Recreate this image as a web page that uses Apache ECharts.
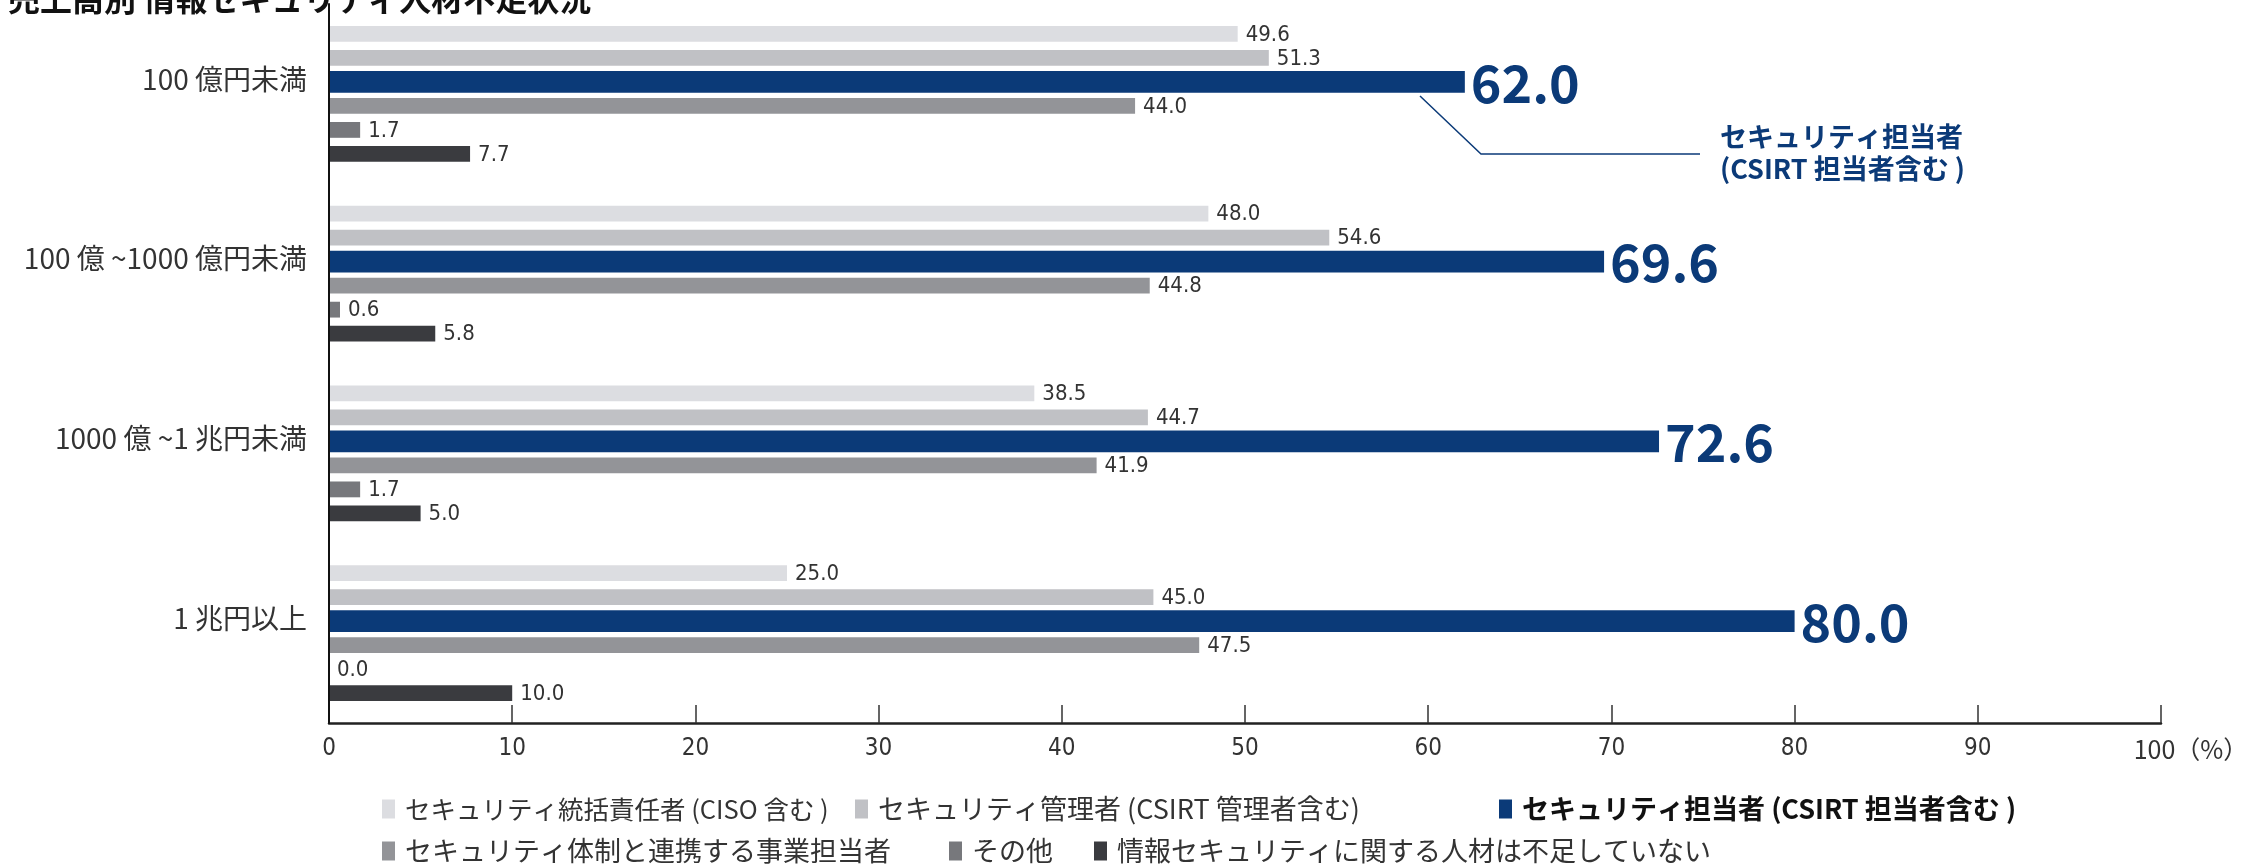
<!DOCTYPE html>
<html><head><meta charset="utf-8">
<script src="https://cdn.jsdelivr.net/npm/echarts@6/dist/echarts.min.js"></script>
<style>html,body{margin:0;padding:0;background:#fff}#c{width:2254px;height:865px}</style>
</head><body><div id="c"></div>
<script>
const titleText = '売上高別 情報セキュリティ人材不足状況';
const categories = ['100 億円未満', '100 億 ~1000 億円未満', '1000 億 ~1 兆円未満', '1 兆円以上'];
const seriesNames = [
  'セキュリティ統括責任者 (CISO 含む )',
  'セキュリティ管理者 (CSIRT 管理者含む)',
  'セキュリティ担当者 (CSIRT 担当者含む )',
  'セキュリティ体制と連携する事業担当者',
  'その他',
  '情報セキュリティに関する人材は不足していない'
];
const cisoValues = [49.6, 48.0, 38.5, 25.0];
const managerValues = [51.3, 54.6, 44.7, 45.0];
const staffValues = [62.0, 69.6, 72.6, 80.0];
const linkedValues = [44.0, 44.8, 41.9, 47.5];
const otherValues = [1.7, 0.6, 1.7, 0.0];
const noShortageValues = [7.7, 5.8, 5.0, 10.0];
const xTickValues = [0, 10, 20, 30, 40, 50, 60, 70, 80, 90, 100];
const xUnit = '（%）';
const calloutLines = ['セキュリティ担当者', '(CSIRT 担当者含む )'];

const allValues = [cisoValues, managerValues, staffValues, linkedValues, otherValues, noShortageValues];
const colors = ['#dcdde1', '#c0c1c5', '#0b3a78', '#939498', '#77787c', '#3a3b3f'];
const SLOT = 0.1336;
const thin = 0.088, thick = 0.122;
const narrowFont = '"Liberation Sans Narrow", "DejaVu Sans Condensed", "Noto Sans", sans-serif';
const cjkFont = '"Noto Sans CJK JP", "Noto Sans", sans-serif';

function makeRender(slot, isMain) {
  return function (params, api) {
    const v = api.value(0), ci = api.value(1);
    const s = api.coord([0, ci]);
    const e = api.coord([v, ci]);
    const band = api.size([0, 1])[1];
    const cy = s[1] + (slot - 2.5) * band * SLOT;
    const h = band * (isMain ? thick : thin);
    return {
      type: 'group',
      children: [
        { type: 'rect', shape: { x: s[0], y: cy - h / 2, width: e[0] - s[0], height: h },
          style: { fill: api.visual('color') } },
        { type: 'text', x: e[0] + (isMain ? 6 : 8), y: cy + 1,
          style: isMain ? {
            text: v.toFixed(1), fontSize: 52, fontWeight: 'bold', fontFamily: cjkFont,
            fill: '#0b3a78', align: 'left', verticalAlign: 'middle'
          } : {
            text: v.toFixed(1), fontSize: 22, fontFamily: narrowFont,
            fill: '#333', align: 'left', verticalAlign: 'middle'
          } }
      ]
    };
  };
}

const series = allValues.map((vals, i) => ({
  type: 'custom',
  name: seriesNames[i],
  itemStyle: { color: colors[i] },
  renderItem: makeRender(i, i === 2),
  encode: { x: 0, y: 1 },
  z: 2,
  data: vals.map((v, j) => [v, j])
}));

const legendText = { fontSize: 27, lineHeight: 30, color: '#333', fontFamily: cjkFont, padding: [0, 0, 0, 5] };

const chart = echarts.init(document.getElementById('c'), null, { renderer: 'canvas' });
chart.setOption({
  animation: false,
  backgroundColor: '#fff',
  title: {
    text: titleText, left: 3, top: -22,
    textStyle: { fontSize: 32, fontWeight: 'bold', color: '#111', fontFamily: cjkFont }
  },
  grid: { left: 329, right: 93, top: 4, bottom: 142, containLabel: false },
  xAxis: {
    type: 'value', min: 0, max: 100, interval: 10,
    axisLine: { show: true, lineStyle: { color: '#222', width: 2.5 } },
    axisTick: { show: true, inside: true, length: 18, lineStyle: { color: '#333', width: 1.5 } },
    splitLine: { show: false },
    axisLabel: {
      margin: 14, fontSize: 24, color: '#333', fontFamily: narrowFont,
      showMaxLabel: true,
      formatter: function (v) {
        if (v === xTickValues[xTickValues.length - 1]) return '{p|' + v + xUnit + '}';
        return xTickValues.indexOf(v) >= 0 ? String(v) : '';
      },
      rich: { p: { fontSize: 25, color: '#333', fontFamily: cjkFont, padding: [0, 0, 0, 60] } }
    }
  },
  yAxis: {
    type: 'category', inverse: true, data: categories, z: 5,
    axisLine: { show: true, lineStyle: { color: '#111', width: 2 } },
    axisTick: { show: false },
    axisLabel: { margin: 22, fontSize: 28, lineHeight: 30, verticalAlign: 'bottom', color: '#333', fontFamily: cjkFont }
  },
  legend: [
    { left: 377, top: 789, icon: 'rect', itemWidth: 13, itemHeight: 19, itemGap: 22,
      data: [
        { name: seriesNames[0], textStyle: { fontSize: 25.5, width: 428 } },
        { name: seriesNames[1], textStyle: { width: 599 } },
        { name: seriesNames[2], textStyle: { fontWeight: 'bold', color: '#111' } }
      ],
      textStyle: legendText },
    { left: 377, top: 831, icon: 'rect', itemWidth: 13, itemHeight: 19, itemGap: 22,
      data: [
        { name: seriesNames[3], textStyle: { width: 522 } },
        { name: seriesNames[4], textStyle: { width: 100 } },
        { name: seriesNames[5] }
      ],
      textStyle: legendText }
  ],
  graphic: [
    { type: 'polyline', shape: { points: [[1420, 96], [1481, 154], [1700, 154]] },
      style: { stroke: '#0b3a78', lineWidth: 1.5, fill: null }, z: 10 },
    { type: 'text', left: 1720, top: 123,
      style: { text: calloutLines[0], fontSize: 27, fontWeight: 'bold', fill: '#0b3a78', fontFamily: cjkFont } },
    { type: 'text', left: 1720, top: 155,
      style: { text: calloutLines[1], fontSize: 27, fontWeight: 'bold', fill: '#0b3a78', fontFamily: cjkFont } }
  ],
  series: series
});
</script></body></html>
